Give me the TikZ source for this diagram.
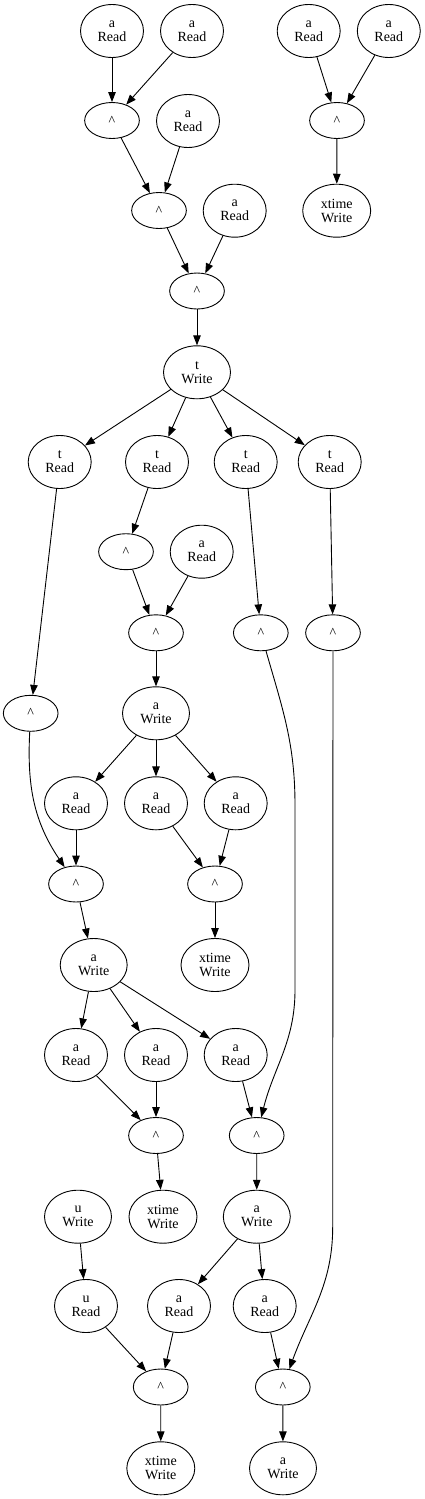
\documentclass[tikz,border=0pt]{standalone}
\usepackage{fontspec}
\setmainfont{Liberation Serif}
\usetikzlibrary{arrows.meta,shapes.geometric}
\tikzset{
 rd/.style={ellipse, draw, line width=0.9pt, minimum width=63pt, minimum height=53pt, inner sep=0pt, align=center, font=\fontsize{14}{14}\selectfont},
 wr/.style={rd, minimum width=67pt},
 xw/.style={rd, minimum width=68pt},
 op/.style={ellipse, draw, line width=0.9pt, minimum width=54.7pt, minimum height=36pt, inner sep=0pt, font=\fontsize{14}{14}\selectfont},
 edge/.style={draw, line width=0.9pt, -{Triangle[length=10pt,width=7.5pt]}}
}
\newcommand{\crt}{\textasciicircum}
\begin{document}
\begin{tikzpicture}[x=1pt,y=1pt]
\useasboundingbox (0,0) rectangle (424,-1499);
% nodes
\node[rd] (n1) at (112,-31) {a\\Read};
\node[rd] (n2) at (192,-31) {a\\Read};
\node[op] (n3) at (112,-120.5) {\crt};
\node[rd] (n4) at (188,-121) {a\\Read};
\node[op] (n5) at (159,-210.5) {\crt};
\node[rd] (n6) at (234.7,-210.7) {a\\Read};
\node[op] (n7) at (197,-291) {\crt};
\node[wr] (n8) at (197,-372.3) {t\\Write};
\node[rd] (n9) at (59.7,-462) {t\\Read};
\node[rd] (n10) at (157,-462) {t\\Read};
\node[rd] (n11) at (245.7,-462) {t\\Read};
\node[rd] (n12) at (329.7,-462) {t\\Read};
\node[op] (n13) at (126,-551.7) {\crt};
\node[rd] (n14) at (201.7,-551.7) {a\\Read};
\node[op] (n15) at (156,-632.8) {\crt};
\node[op] (n16) at (260.8,-632.8) {\crt};
\node[op] (n17) at (333,-632.8) {\crt};
\node[op] (n18) at (30.7,-713.3) {\crt};
\node[wr] (n19) at (156,-713.3) {a\\Write};
\node[rd] (n20) at (76,-803.3) {a\\Read};
\node[rd] (n21) at (156,-803.3) {a\\Read};
\node[rd] (n22) at (235.7,-803.3) {a\\Read};
\node[op] (n23) at (76,-884) {\crt};
\node[op] (n24) at (215,-884) {\crt};
\node[wr] (n25) at (93.7,-965) {a\\Write};
\node[xw] (n26) at (215,-965) {xtime\\Write};
\node[rd] (n27) at (76,-1055) {a\\Read};
\node[rd] (n28) at (156,-1055) {a\\Read};
\node[rd] (n29) at (235.7,-1055) {a\\Read};
\node[op] (n30) at (156,-1135.5) {\crt};
\node[op] (n31) at (256.7,-1135.5) {\crt};
\node[xw] (n32) at (163,-1216.7) {xtime\\Write};
\node[wr] (n33) at (256.8,-1216.7) {a\\Write};
\node[wr] (n34) at (78,-1216.7) {u\\Write};
\node[rd] (n35) at (86,-1306) {u\\Read};
\node[rd] (n36) at (179,-1306) {a\\Read};
\node[rd] (n37) at (264.7,-1306) {a\\Read};
\node[op] (n38) at (160.7,-1387) {\crt};
\node[op] (n39) at (282.8,-1387) {\crt};
\node[xw] (n40) at (160.8,-1468.3) {xtime\\Write};
\node[wr] (n41) at (283,-1468.3) {a\\Write};
\node[rd] (r1) at (308.7,-31) {a\\Read};
\node[rd] (r2) at (388.8,-31) {a\\Read};
\node[op] (r3) at (337,-120.5) {\crt};
\node[xw] (r4) at (336.7,-210.7) {xtime\\Write};
\coordinate (v1) at (295,-805);
\coordinate (v2) at (295,-990);
\coordinate (w1) at (332.7,-1227);
% edges
\draw[edge] (n1) -- (n3);
\draw[edge] (n2) -- (n3);
\draw[edge] (n3) -- (n5);
\draw[edge] (n4) -- (n5);
\draw[edge] (n5) -- (n7);
\draw[edge] (n6) -- (n7);
\draw[edge] (n7) -- (n8);
\draw[edge] (n8) -- (n9);
\draw[edge] (n8) -- (n10);
\draw[edge] (n8) -- (n11);
\draw[edge] (n8) -- (n12);
\draw[edge] (n9) -- (n18);
\draw[edge] (n10) -- (n13);
\draw[edge] (n13) -- (n15);
\draw[edge] (n14) -- (n15);
\draw[edge] (n15) -- (n19);
\draw[edge] (n11) -- (n16);
\draw[edge] (n12) -- (n17);
\draw[edge] (n19) -- (n20);
\draw[edge] (n19) -- (n21);
\draw[edge] (n19) -- (n22);
\draw[edge] (n18) to[out=-93,in=124] (n23);
\draw[edge] (n20) -- (n23);
\draw[edge] (n21) -- (n24);
\draw[edge] (n22) -- (n24);
\draw[edge] (n24) -- (n26);
\draw[edge] (n23) -- (n25);
\draw[edge] (n25) -- (n27);
\draw[edge] (n25) -- (n28);
\draw[edge] (n25) -- (n29);
\draw[edge] (n27) -- (n30);
\draw[edge] (n28) -- (n30);
\draw[edge] (n29) -- (n31);
\draw[edge] (n16) to[out=-74,in=90] (v1) -- (v2) to[out=-90,in=76] (n31);
\draw[edge] (n30) -- (n32);
\draw[edge] (n31) -- (n33);
\draw[edge] (n33) -- (n36);
\draw[edge] (n33) -- (n37);
\draw[edge] (n34) -- (n35);
\draw[edge] (n35) -- (n38);
\draw[edge] (n36) -- (n38);
\draw[edge] (n37) -- (n39);
\draw[edge] (n17) -- (w1) to[out=-90,in=70] (n39);
\draw[edge] (n38) -- (n40);
\draw[edge] (n39) -- (n41);
\draw[edge] (r1) -- (r3);
\draw[edge] (r2) -- (r3);
\draw[edge] (r3) -- (r4);
\end{tikzpicture}
\end{document}
